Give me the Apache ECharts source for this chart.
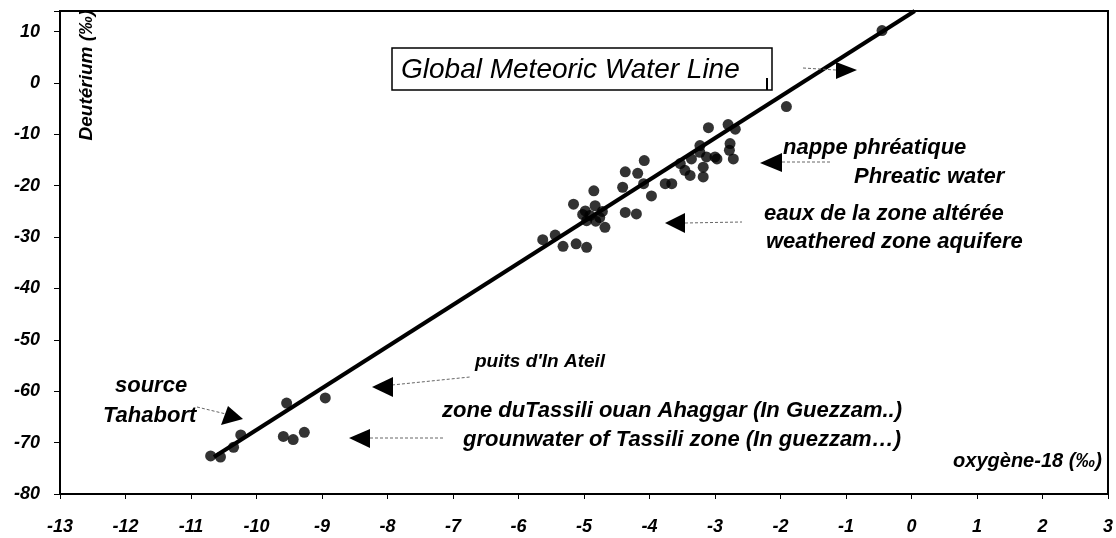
<!DOCTYPE html>
<html>
<head>
<meta charset="utf-8">
<script src="https://cdn.jsdelivr.net/npm/echarts@6/dist/echarts.min.js"></script>
<style>
html, body { margin: 0; padding: 0; background: #fff; }
#main { width: 1116px; height: 538px; }
</style>
</head>
<body>
<div id="main"></div>
<script>
// oxygene-18 (x) / deuterium (y), per mil
var tassiliPts = [
    [-10.70, -72.6], [-10.55, -72.8], [-10.35, -70.9], [-10.24, -68.5],
    [-9.54, -62.3], [-8.95, -61.3], [-9.59, -68.8], [-9.44, -69.4], [-9.27, -68.0]
];
var weatheredPts = [
    [-5.63, -30.5], [-5.44, -29.6], [-5.32, -31.8], [-5.12, -31.3], [-4.96, -32.0],
    [-5.16, -23.6], [-4.98, -24.9], [-4.85, -21.0], [-4.83, -23.9], [-4.91, -25.8],
    [-4.76, -26.2], [-4.68, -28.1], [-4.82, -26.9], [-4.96, -26.8], [-5.02, -25.6],
    [-4.72, -25.0], [-4.37, -17.3], [-4.18, -17.6], [-4.41, -20.3], [-4.37, -25.2],
    [-4.20, -25.5], [-3.97, -22.0], [-4.09, -19.6], [-4.08, -15.1], [-3.76, -19.6],
    [-3.66, -19.6]
];
var phreaticPts = [
    [-3.10, -8.7], [-2.80, -8.1], [-2.69, -9.0], [-2.77, -11.8], [-2.78, -13.1],
    [-2.72, -14.8], [-2.97, -14.8], [-3.00, -14.4], [-3.18, -16.4], [-3.18, -18.3],
    [-3.38, -18.0], [-3.46, -17.0], [-3.23, -13.5], [-3.13, -14.4], [-3.36, -14.8],
    [-3.53, -15.7], [-3.23, -12.2], [-1.91, -4.6], [-0.45, 10.2]
];
// Global Meteoric Water Line end points
var gmwlX = [-10.65, 0.05];
var gmwlY = [-72.8, 14];

var xMin = -13, xMax = 3, yMin = -80, yMax = 14;

var allPts = tassiliPts.concat(weatheredPts).concat(phreaticPts);
var gmwlData = [];
for (var i = 0; i < gmwlX.length; i++) {
    gmwlData.push([gmwlX[i], gmwlY[i]]);
}

var fontF = '"Liberation Sans", Arial, sans-serif';
var annFont = { fontFamily: fontF, fontStyle: 'italic', fontWeight: 'bold', fontSize: 22, fill: '#000' };

function txt(x, y, s, extra) {
    var st = Object.assign({ text: s, textVerticalAlign: 'middle' }, annFont, extra || {});
    return { type: 'text', x: x, y: y, style: st, z: 10 };
}
function dash(x1, y1, x2, y2) {
    return { type: 'line', shape: { x1: x1, y1: y1, x2: x2, y2: y2 },
        style: { stroke: '#666', lineWidth: 1, lineDash: [3, 2] }, z: 10 };
}
function tri(pts) {
    return { type: 'polygon', shape: { points: pts }, style: { fill: '#000' }, z: 10 };
}

var myChart = echarts.init(document.getElementById('main'));
var option = {
    backgroundColor: '#fff',
    animation: false,
    grid: {
        left: 60, right: 8, top: 11, bottom: 44,
        show: true, borderColor: '#000', borderWidth: 2, backgroundColor: 'transparent'
    },
    xAxis: {
        type: 'value', min: xMin, max: xMax, interval: 1,
        splitLine: { show: false },
        axisLine: { onZero: false, lineStyle: { color: '#000', width: 2 } },
        axisTick: { show: true, inside: false, length: 5, lineStyle: { color: '#000', width: 1 } },
        axisLabel: {
            margin: 24, color: '#000', fontFamily: fontF, fontStyle: 'italic',
            fontWeight: 'bold', fontSize: 18
        }
    },
    yAxis: {
        type: 'value', min: yMin, max: yMax, interval: 10,
        splitLine: { show: false },
        axisLine: { onZero: false, lineStyle: { color: '#000', width: 2 } },
        axisTick: { show: true, inside: false, length: 6, lineStyle: { color: '#000', width: 1 } },
        axisLabel: {
            margin: 20, color: '#000', fontFamily: fontF, fontStyle: 'italic',
            fontWeight: 'bold', fontSize: 18,
            formatter: function (v) { return (v % 10 === 0) ? String(v) : ''; }
        }
    },
    series: [
        {
            name: 'GMWL', type: 'line', data: gmwlData, showSymbol: false, symbol: 'none',
            lineStyle: { color: '#000', width: 4 }, z: 3
        },
        {
            name: 'samples', type: 'scatter', data: allPts, symbolSize: 11,
            itemStyle: { color: '#000' }, z: 4
        }
    ],
    graphic: [
        { type: 'rect', shape: { x: 392, y: 48, width: 380, height: 42 },
          style: { fill: '#fff', stroke: '#000', lineWidth: 1.5 }, z: 9 },
        { type: 'line', shape: { x1: 767, y1: 78, x2: 767, y2: 90 }, style: { stroke: '#000', lineWidth: 2 }, z: 10 },
        txt(401, 70, 'Global Meteoric Water Line', { fontWeight: 'normal', fontSize: 28 }),

        dash(803, 68, 836, 70),
        tri([[836, 62], [836, 79], [857, 70]]),

        txt(783, 148, 'nappe phréatique'),
        txt(854, 177, 'Phreatic water'),
        dash(782, 162, 830, 162),
        tri([[760, 163], [782, 153], [782, 172]]),

        txt(764, 214, 'eaux de la zone altérée'),
        txt(766, 242, 'weathered zone aquifere'),
        dash(685, 223, 742, 222),
        tri([[665, 223], [685, 213], [685, 233]]),

        txt(475, 362, "puits d'In Ateil", { fontSize: 19 }),
        dash(392, 385, 470, 377),
        tri([[372, 387], [393, 377], [393, 397]]),

        txt(442, 411, 'zone duTassili ouan Ahaggar (In Guezzam..)'),
        txt(463, 440, 'grounwater of Tassili zone (In guezzam…)'),
        dash(370, 438, 443, 438),
        tri([[349, 438], [370, 429], [370, 448]]),

        txt(115, 386, 'source'),
        txt(103, 416, 'Tahabort'),
        dash(197, 407, 226, 414),
        tri([[228, 406], [221, 425], [243, 419]]),

        txt(1102, 461, 'oxygène-18 (‰)', { fontSize: 20, textAlign: 'right' }),
        { type: 'text', x: 87, y: 75, rotation: Math.PI / 2,
          style: Object.assign({ text: 'Deutérium (‰)', textAlign: 'center', textVerticalAlign: 'middle' },
              annFont, { fontSize: 19 }), z: 10 }
    ]
};
myChart.setOption(option);
</script>
</body>
</html>
